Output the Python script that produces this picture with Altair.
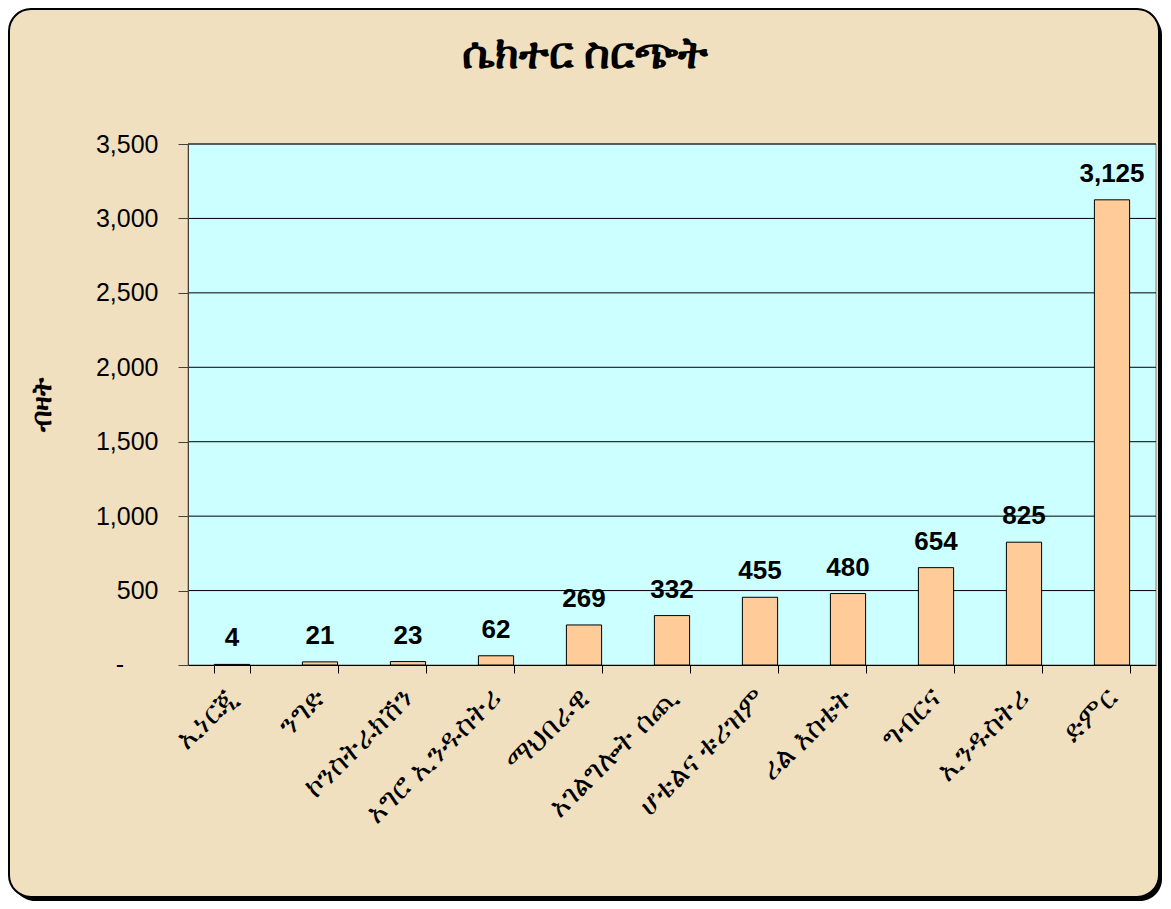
import altair as alt
import pandas as pd

categories = ["ኢነርጂ", "ንግድ", "ኮንስትራክሽን", "አግሮ ኢንዱስትሪ", "ማህበራዊ",
              "አገልግሎት ሰጪ", "ሆቴልና ቱሪዝም", "ሪል እስቴት", "ግብርና", "ኢንዱስትሪ", "ድምር"]
values = [4, 21, 23, 62, 269, 332, 455, 480, 654, 825, 3125]
y_ticks = [0, 500, 1000, 1500, 2000, 2500, 3000, 3500]
grid_levels = [500, 1000, 1500, 2000, 2500, 3000, 3500]
zero_label = "-"

title_text = "ሴክተር ስርጭት"
y_title = "ብዛት"

W, H = 968, 521
FONT = "Liberation Sans"

df = pd.DataFrame({"cat": categories, "val": values})
grid_df = pd.DataFrame({"val": grid_levels})
zero_df = pd.DataFrame({"val": [0], "lab": [zero_label]})
one = pd.DataFrame({"a": [0]})

yscale = alt.Scale(domain=[0, 3500], nice=False, zero=True)
yaxis = alt.Axis(title=y_title, values=y_ticks, grid=False, tickSize=10, labelPadding=20,
                 labelFontSize=25, labelFont=FONT, labelColor="black",
                 labelExpr="datum.value == 0 ? '' : format(datum.value, ',')",
                 domainColor="#404040", tickColor="#404040", zindex=2,
                 titleFontSize=27, titleFontWeight="bold", titleColor="black",
                 titleX=-146, titleY=H / 2, titleAngle=270, titleAlign="center",
                 titleBaseline="middle", titleFont="Noto Sans")

shadow = alt.Chart(one).mark_rect(fill="black", cornerRadius=22).encode(
    x=alt.value(-175), x2=alt.value(W + 6), y=alt.value(-131), y2=alt.value(H + 236)
)
frame = alt.Chart(one).mark_rect(fill="#F0E0C0", stroke="black", strokeWidth=2, cornerRadius=22).encode(
    x=alt.value(-179), x2=alt.value(W + 3), y=alt.value(-135), y2=alt.value(H + 232)
)
plot_bg = alt.Chart(one).mark_rect(fill="#CCFFFF", stroke="#808080", strokeWidth=1).encode(
    x=alt.value(0), x2=alt.value(W), y=alt.value(0), y2=alt.value(H)
)
title_mark = alt.Chart(one).mark_text(fontSize=44, fontWeight="bold", font="Noto Sans", color="black",
                                      align="center", baseline="middle").encode(
    x=alt.value(397), y=alt.value(-89), text=alt.value(title_text)
)
grid = alt.Chart(grid_df).mark_rule(color="black", strokeWidth=1).encode(
    y=alt.Y("val:Q", scale=yscale, axis=yaxis), x=alt.value(0), x2=alt.value(W)
)
zero_mark = alt.Chart(zero_df).mark_text(fontSize=25, font=FONT, color="black",
                                         align="center", baseline="middle").encode(
    y=alt.Y("val:Q", scale=yscale, axis=yaxis), x=alt.value(-68), text="lab:N"
)

bars = alt.Chart(df).mark_bar(fill="#FFCC99", stroke="black", strokeWidth=1).encode(
    x=alt.X("cat:N", sort=None,
            scale=alt.Scale(paddingInner=0.6, paddingOuter=0.3),
            axis=alt.Axis(title=None, labelAngle=315, labelAlign="right", labelBaseline="middle",
                          labelFontSize=29, labelPadding=20, tickSize=8, tickBand="extent",
                          domainColor="black", tickColor="black", labelColor="black",
                          labelOverlap=False, labelLimit=400, zindex=2, labelFont="Noto Sans")),
    y=alt.Y("val:Q", scale=yscale, axis=yaxis),
)

labels = alt.Chart(df).mark_text(fontSize=26, fontWeight="bold", font=FONT, color="black",
                                 baseline="alphabetic", dy=-18).encode(
    x=alt.X("cat:N", sort=None),
    y=alt.Y("val:Q", scale=yscale, axis=yaxis),
    text=alt.Text("val:Q", format=","),
)

chart = alt.layer(shadow, frame, plot_bg, title_mark, grid, zero_mark, bars, labels).properties(
    width=W, height=H,
    autosize=alt.AutoSizeParams(type="none"),
    padding={"left": 180, "top": 136, "right": 7, "bottom": 236},
    background="white",
).configure_view(stroke=None)

chart.save("out.html", embed_options={"renderer": "svg", "actions": False})
